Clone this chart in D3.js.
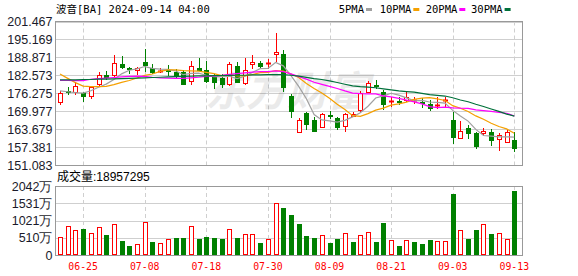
<!DOCTYPE html>
<html>
<head>
<meta charset="utf-8">
<script src="https://cdn.jsdelivr.net/npm/d3@7"></script>
<style>
  body { margin: 0; background: #fff; }
  svg { display: block; }
</style>
</head>
<body>
<svg id="chart"></svg>
<script>
// trading days shown (MM-DD)
const dates = [
  "06-20", "06-21", "06-24", "06-25", "06-26", "06-27", "06-28",
  "07-01", "07-02", "07-03", "07-05", "07-08", "07-09", "07-10", "07-11", "07-12",
  "07-15", "07-16", "07-17", "07-18", "07-19", "07-22", "07-23", "07-24", "07-25", "07-26",
  "07-29", "07-30", "07-31",
  "08-01", "08-02", "08-05", "08-06", "08-07", "08-08", "08-09", "08-12", "08-13", "08-14",
  "08-15", "08-16", "08-19", "08-20", "08-21", "08-22", "08-23", "08-26", "08-27", "08-28",
  "08-29", "08-30",
  "09-03", "09-04", "09-05", "09-06", "09-09", "09-10", "09-11", "09-12", "09-13"
];

const open = [
  173.3, 177.1, 176.6, 176.3, 175.2, 179.4, 182.7, 182.7, 186.45, 185.3,
  184.45, 187.2, 185.0, 183.8, 184.5, 183.75, 183.75, 180.5, 185.0, 184.45,
  182.0, 181.8, 179.4, 185.7, 179.8, 186.4, 187.0, 186.4, 190.2, 189.95,
  175.3, 162.6, 169.25, 166.9, 164.35, 168.8, 167.5, 164.8, 168.4, 170.4,
  176.6, 179.3, 176.7, 173.3, 173.4, 173.9, 173.5, 173.3, 172.5, 172.0,
  173.4, 166.9, 160.5, 164.2, 162.45, 162.45, 162.6, 160.1, 159.1, 159.9
];
const high = [
  177.1, 178.5, 180.35, 176.8, 178.8, 183.6, 184.2, 189.7, 189.4, 185.6,
  185.6, 191.7, 186.7, 185.2, 186.2, 184.8, 184.3, 187.6, 188.8, 187.6,
  182.9, 182.9, 187.25, 187.25, 188.7, 189.7, 187.5, 188.4, 197.4, 191.5,
  175.9, 167.5, 169.8, 168.1, 169.5, 170.0, 168.1, 169.5, 169.8, 177.1,
  180.6, 180.9, 177.4, 175.1, 174.9, 176.7, 175.1, 174.5, 174.0, 175.0,
  175.1, 169.8, 166.6, 165.15, 162.8, 164.2, 163.6, 162.2, 163.6, 162.6
];
const low = [
  172.2, 175.7, 175.7, 173.3, 174.2, 178.6, 181.0, 182.1, 184.8, 183.2,
  182.7, 183.6, 182.9, 183.3, 182.3, 181.3, 179.0, 179.0, 184.3, 179.8,
  177.8, 178.0, 178.95, 180.0, 179.2, 184.8, 185.05, 184.8, 187.3, 176.8,
  167.5, 162.5, 163.4, 162.9, 164.3, 167.3, 163.4, 162.8, 168.1, 169.8,
  176.3, 177.8, 170.4, 171.6, 172.0, 173.1, 172.4, 171.2, 170.2, 170.7,
  171.6, 158.4, 160.5, 160.1, 156.7, 161.4, 157.9, 156.1, 158.7, 155.6
];
const close = [
  176.4, 176.6, 178.95, 175.4, 178.4, 182.6, 182.1, 186.8, 185.5, 184.7,
  185.05, 186.2, 183.6, 184.1, 184.2, 182.5, 179.4, 186.0, 184.5, 180.5,
  180.2, 179.4, 186.55, 180.4, 184.45, 187.25, 185.9, 186.9, 190.8, 178.6,
  170.2, 166.8, 165.4, 163.0, 169.1, 168.5, 164.55, 169.1, 168.9, 176.3,
  179.99, 179.0, 172.35, 173.7, 173.1, 175.1, 173.8, 173.0, 171.0, 172.3,
  173.9, 161.05, 163.05, 162.2, 157.8, 163.15, 159.9, 161.6, 162.6, 157.0
];
// volume in 万 shares
const volume = [
  524, 858, 740, 770, 642, 820, 592, 908, 424, 266,
  326, 977, 385, 346, 465, 503, 503, 858, 474, 530,
  503, 465, 760, 503, 612, 612, 355, 470, 1530, 1391,
  1184, 918, 562, 503, 583, 355, 474, 642, 385, 583,
  672, 385, 947, 444, 266, 444, 385, 326, 444, 414,
  414, 1806, 740, 474, 740, 908, 622, 642, 474, 1895.73
];

const ma5 = [
  177.1, 176.8, 176.5, 176.3, 177.15, 178.39, 179.49, 181.06, 183.08, 184.34,
  184.83, 185.65, 185.01, 184.77, 184.67, 184.16, 182.8, 183.28, 183.32, 182.55,
  182.13, 182.13, 182.24, 181.42, 182.24, 183.61, 184.91, 184.98, 187.06, 185.89,
  182.48, 178.66, 174.36, 168.8, 166.9, 166.56, 166.11, 166.77, 167.97, 169.41,
  171.71, 174.6, 175.33, 176.27, 175.63, 174.65, 173.61, 173.74, 173.2, 173.04,
  172.8, 170.25, 168.26, 166.5, 163.6, 161.45, 161.22, 160.93, 161.01, 160.85
];
const ma10 = [
  183.0, 181.5, 180.0, 178.8, 178.6, 178.6, 178.7, 179.3, 180.1, 180.75,
  181.61, 182.57, 183.04, 183.93, 184.51, 184.5, 184.23, 184.15, 184.05, 183.61,
  183.15, 182.47, 182.76, 182.37, 182.4, 182.87, 183.52, 183.61, 184.24, 184.07,
  183.05, 181.79, 179.67, 177.93, 176.4, 174.52, 172.39, 170.57, 168.39, 168.16,
  169.13, 170.35, 171.05, 172.12, 172.52, 173.18, 174.1, 174.53, 174.73, 174.33,
  173.73, 171.93, 171.0, 169.85, 168.32, 167.13, 165.74, 164.6, 163.76, 162.23
];
const ma20 = [
  180.8, 180.8, 180.7, 180.7, 181.2, 181.4, 181.6, 181.8, 182.0, 182.2,
  182.3, 182.2, 181.9, 181.7, 181.6, 181.5, 181.5, 181.7, 181.9, 182.18,
  182.38, 182.52, 182.9, 183.15, 183.46, 183.69, 183.88, 183.88, 184.15, 183.84,
  183.1, 182.13, 181.22, 180.15, 179.4, 178.7, 177.96, 177.09, 176.32, 176.12,
  176.09, 176.07, 175.36, 175.03, 174.46, 173.85, 173.25, 172.55, 171.56, 171.25,
  171.43, 171.14, 171.03, 170.99, 170.42, 170.16, 169.92, 169.57, 169.25, 168.28
];
const ma30 = [
  181.0, 181.0, 181.0, 181.1, 181.1, 181.2, 181.2, 181.3, 181.4, 181.5,
  181.6, 181.7, 181.8, 181.9, 182.0, 182.1, 182.2, 182.3, 182.35, 182.4,
  182.45, 182.5, 182.55, 182.6, 182.6, 182.7, 182.75, 182.8, 182.85, 182.81,
  182.6, 182.28, 181.82, 181.41, 181.1, 180.63, 180.05, 179.44, 178.89, 178.61,
  178.44, 178.2, 177.83, 177.47, 177.11, 176.86, 176.67, 176.24, 175.79, 175.52,
  175.3, 174.69, 173.91, 173.3, 172.41, 171.61, 170.74, 169.9, 168.96, 168.24
];

const priceTicks = [201.467, 195.169, 188.871, 182.573, 176.275, 169.977, 163.679, 157.381, 151.083];
const volumeTicks = [0, 510, 1021, 1531, 2042];
const dateTicks = ["06-25", "07-08", "07-18", "07-30", "08-09", "08-21", "09-03", "09-13"];
const maNames = ["5PMA", "10PMA", "20PMA", "30PMA"];

const width = 578;
const height = 276;
const plotLeft = 55, plotRight = 522;
const priceTop = 21.5, priceBottom = 165;
const volTop = 186, volBottom = 255;

const RED = "#ff0000";
const GREEN = "#008000";
const maColors = ["#a0a0a0", "#f5a000", "#ff00ff", "#00703a"];
const axisFont = "'Liberation Sans', Arial, sans-serif";
const monoFont = "'DejaVu Sans Mono', 'Noto Sans CJK SC', monospace";

const svg = d3.select("#chart").attr("width", width).attr("height", height);

const x = d3.scalePoint().domain(dates).range([60, 514.3]);
const y = d3.scaleLinear().domain([151.083, 201.467]).range([priceBottom, priceTop]);
const yv = d3.scaleLinear().domain([0, 2042]).range([volBottom, volTop]);
const px = (v) => Math.round(v) + 0.5;

// ---- grid lines ----
const grid = svg.append("g");
grid.selectAll(".pgrid")
  .data(priceTicks)
  .enter()
  .append("line")
  .attr("x1", plotLeft).attr("x2", plotRight)
  .attr("y1", (d) => px(y(d))).attr("y2", (d) => px(y(d)))
  .style("stroke", "#cfcfcf");
grid.selectAll(".vgrid")
  .data(volumeTicks)
  .enter()
  .append("line")
  .attr("x1", plotLeft).attr("x2", plotRight)
  .attr("y1", (d) => px(yv(d))).attr("y2", (d) => px(yv(d)))
  .style("stroke", "#cfcfcf");

[[priceTop, priceBottom], [volTop, volBottom]].forEach(([t, b]) => {
  grid.selectAll(null)
    .data(dateTicks)
    .enter()
    .append("line")
    .attr("x1", (d) => px(x(d))).attr("x2", (d) => px(x(d)))
    .attr("y1", t).attr("y2", b)
    .style("stroke", "#cfcfcf")
    .style("stroke-dasharray", "4,3");
});

// watermark
svg.append("text")
  .attr("x", 205).attr("y", 106)
  .text("东方财富")
  .style("font-family", "'Noto Sans CJK SC', sans-serif")
  .style("font-size", "41px")
  .style("font-weight", "bold")
  .style("font-style", "italic")
  .style("fill", "#000")
  .style("opacity", 0.08);

// ---- candles ----
const idx = d3.range(dates.length);
const bodyW = 5;
const candles = svg.append("g").selectAll("g").data(idx).enter().append("g");

candles.each(function (i) {
  const g = d3.select(this);
  const cx = Math.round(x(dates[i]));
  const up = close[i] >= open[i];
  const color = up ? RED : GREEN;
  const yTop = Math.round(y(Math.max(open[i], close[i])));
  const yBot = Math.round(y(Math.min(open[i], close[i])));
  const yHigh = Math.round(y(high[i]));
  const yLow = Math.round(y(low[i]));
  const wx = cx + 0.5;
  if (up) {
    g.append("line").attr("x1", wx).attr("x2", wx).attr("y1", yHigh).attr("y2", yTop)
      .style("stroke", color);
    g.append("line").attr("x1", wx).attr("x2", wx).attr("y1", yBot).attr("y2", yLow)
      .style("stroke", color);
    if (yBot - yTop < 2) {
      g.append("line").attr("x1", cx - 2).attr("x2", cx + 3)
        .attr("y1", yTop + 0.5).attr("y2", yTop + 0.5).style("stroke", color).style("stroke-width", 2);
    } else {
      g.append("rect")
        .attr("x", cx - 2 + 0.5).attr("y", yTop + 0.5)
        .attr("width", bodyW - 1).attr("height", yBot - yTop)
        .style("fill", "#fff").style("stroke", color);
    }
  } else {
    g.append("line").attr("x1", wx).attr("x2", wx).attr("y1", yHigh).attr("y2", yLow)
      .style("stroke", color);
    g.append("rect")
      .attr("x", cx - 2).attr("y", yTop)
      .attr("width", bodyW).attr("height", Math.max(2, yBot - yTop + 1))
      .style("fill", color);
  }
});

// ---- moving averages ----
const line = d3.line().x((d, i) => x(dates[i])).y((d) => y(d));
[ma5, ma10, ma20, ma30].forEach((series, k) => {
  svg.append("path")
    .attr("d", line(series))
    .style("fill", "none")
    .style("stroke", maColors[k])
    .style("stroke-width", 1.2);
});

// ---- volume bars ----
const vol = svg.append("g");
idx.forEach((i) => {
  const cx = Math.round(x(dates[i]));
  const up = i === 0 ? close[i] >= open[i] : close[i] >= close[i - 1];
  const top = Math.round(yv(volume[i]));
  if (up) {
    vol.append("rect")
      .attr("x", cx - 2 + 0.5).attr("y", top + 0.5)
      .attr("width", bodyW - 1).attr("height", volBottom - top - 1)
      .style("fill", "#fff").style("stroke", RED);
  } else {
    vol.append("rect")
      .attr("x", cx - 2).attr("y", top)
      .attr("width", bodyW).attr("height", volBottom - top)
      .style("fill", GREEN);
  }
});

// ---- frames ----
svg.append("rect")
  .attr("x", plotLeft + 0.5).attr("y", priceTop)
  .attr("width", plotRight - plotLeft).attr("height", priceBottom - priceTop + 0.5)
  .style("fill", "none").style("stroke", "#999");
svg.append("rect")
  .attr("x", plotLeft + 0.5).attr("y", volTop + 0.5)
  .attr("width", plotRight - plotLeft).attr("height", volBottom - volTop)
  .style("fill", "none").style("stroke", "#999");

// ---- axis labels ----
svg.selectAll(".plabel")
  .data(priceTicks)
  .enter()
  .append("text")
  .attr("x", 52.5).attr("y", (d) => y(d))
  .attr("dy", "0.36em")
  .attr("text-anchor", "end")
  .text((d) => d.toFixed(3))
  .style("font-family", axisFont)
  .style("font-size", "12.5px")
  .style("fill", "#1a1a2a");

svg.selectAll(".vlabel")
  .data(volumeTicks)
  .enter()
  .append("text")
  .attr("x", 52.5).attr("y", (d) => yv(d))
  .attr("dy", "0.36em")
  .attr("text-anchor", "end")
  .text((d) => (d === 0 ? "0" : d + "万"))
  .style("font-family", axisFont)
  .style("font-size", "12.5px")
  .style("fill", "#1a1a2a");

svg.selectAll(".dlabel")
  .data(dateTicks)
  .enter()
  .append("text")
  .attr("x", (d) => x(d)).attr("y", 270)
  .attr("text-anchor", "middle")
  .text((d) => d)
  .style("font-family", monoFont)
  .style("font-size", "9.8px")
  .style("fill", RED);

// ---- title / legend ----
svg.append("text")
  .attr("x", 56).attr("y", 13)
  .text("波音[BA] 2024-09-14 04:00")
  .style("font-family", monoFont)
  .style("font-size", "10.5px")
  .style("fill", "#000");

const legendX = [338.7, 379.7, 425.7, 471];
const legend = svg.append("g");
maNames.forEach((name, k) => {
  const t = legend.append("text")
    .attr("x", legendX[k]).attr("y", 13)
    .text(name)
    .style("font-family", monoFont)
    .style("font-size", "10.5px")
    .style("fill", "#000");
  const w = t.node().getComputedTextLength();
  legend.append("rect")
    .attr("x", legendX[k] + w + 2).attr("y", 8)
    .attr("width", 6).attr("height", 3)
    .style("fill", maColors[k]);
});

svg.append("text")
  .attr("x", 57).attr("y", 181)
  .text("成交量:18957295")
  .style("font-family", "'Liberation Sans', 'Noto Sans CJK SC', sans-serif")
  .style("font-size", "12px")
  .style("fill", "#000");
</script>
</body>
</html>
